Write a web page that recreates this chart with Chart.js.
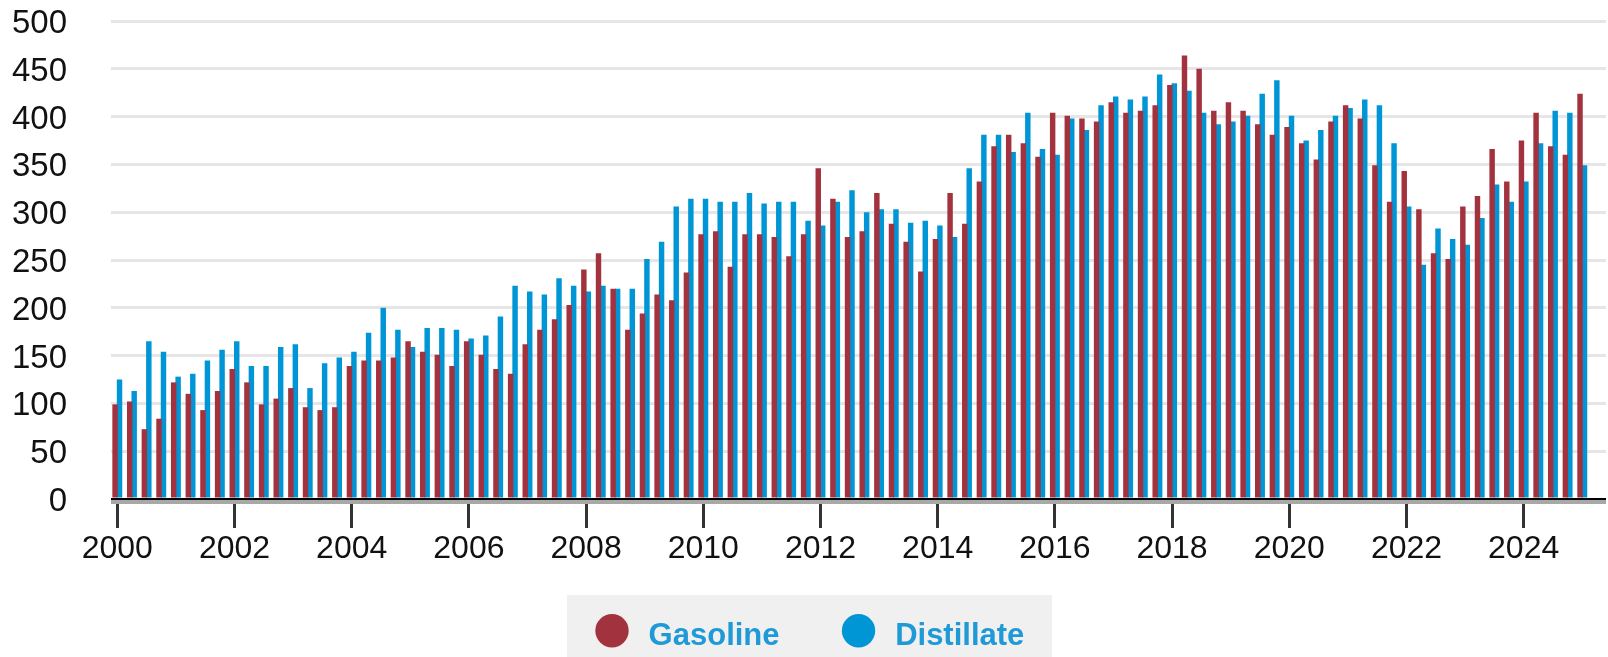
<!DOCTYPE html>
<html>
<head>
<meta charset="utf-8">
<script src="https://cdn.jsdelivr.net/npm/chart.js@4"></script>
<style>
html,body{margin:0;padding:0;background:#fff;}
#wrap{width:1608px;height:657px;position:relative;}
</style>
</head>
<body>
<div id="wrap"><canvas id="c"></canvas></div>
<script>
const quarters = [
  '2000 Q1','2000 Q2','2000 Q3','2000 Q4',
  '2001 Q1','2001 Q2','2001 Q3','2001 Q4',
  '2002 Q1','2002 Q2','2002 Q3','2002 Q4',
  '2003 Q1','2003 Q2','2003 Q3','2003 Q4',
  '2004 Q1','2004 Q2','2004 Q3','2004 Q4',
  '2005 Q1','2005 Q2','2005 Q3','2005 Q4',
  '2006 Q1','2006 Q2','2006 Q3','2006 Q4',
  '2007 Q1','2007 Q2','2007 Q3','2007 Q4',
  '2008 Q1','2008 Q2','2008 Q3','2008 Q4',
  '2009 Q1','2009 Q2','2009 Q3','2009 Q4',
  '2010 Q1','2010 Q2','2010 Q3','2010 Q4',
  '2011 Q1','2011 Q2','2011 Q3','2011 Q4',
  '2012 Q1','2012 Q2','2012 Q3','2012 Q4',
  '2013 Q1','2013 Q2','2013 Q3','2013 Q4',
  '2014 Q1','2014 Q2','2014 Q3','2014 Q4',
  '2015 Q1','2015 Q2','2015 Q3','2015 Q4',
  '2016 Q1','2016 Q2','2016 Q3','2016 Q4',
  '2017 Q1','2017 Q2','2017 Q3','2017 Q4',
  '2018 Q1','2018 Q2','2018 Q3','2018 Q4',
  '2019 Q1','2019 Q2','2019 Q3','2019 Q4',
  '2020 Q1','2020 Q2','2020 Q3','2020 Q4',
  '2021 Q1','2021 Q2','2021 Q3','2021 Q4',
  '2022 Q1','2022 Q2','2022 Q3','2022 Q4',
  '2023 Q1','2023 Q2','2023 Q3','2023 Q4',
  '2024 Q1','2024 Q2','2024 Q3','2024 Q4',
  '2025 Q1'
];

const gasoline = [
  99,102,73,84, 122,110,93,113, 136,122,99,105, 116,96,93,96,
  139,145,145,148, 165,154,151,139, 165,151,136,131, 162,177,188,203,
  240,257,220,177, 194,214,208,237, 277,280,243,277, 277,274,254,277,
  346,314,274,280, 320,288,269,238, 272,320,288,332, 369,381,372,358,
  404,401,398,395, 415,404,406,412, 433,464,450,406, 415,406,392,381,
  389,372,355,395, 412,398,349,311, 343,303,257,251, 306,317,366,332,
  375,404,369,360, 424
];

const distillate = [
  125,113,165,154, 128,131,145,156, 165,139,139,159, 162,116,142,148,
  154,174,200,177, 159,179,179,177, 168,171,191,223, 217,214,231,223,
  217,223,220,220, 251,269,306,314, 314,311,311,320, 309,311,311,291,
  286,311,323,300, 303,303,289,291, 286,274,346,381, 381,363,404,366,
  360,398,386,412, 421,418,421,444, 435,427,404,392, 395,401,424,438,
  401,375,386,401, 409,418,412,372, 306,245,283,272, 266,294,329,311,
  332,372,406,404, 349
];

const tickYears = [2000,2002,2004,2006,2008,2010,2012,2014,2016,2018,2020,2022,2024];
const yTicks = [0,50,100,150,200,250,300,350,400,450,500];
const seriesNames = ['Gasoline','Distillate'];
const seriesColors = ['#a3323f','#0096d6'];

const FONT = "'Liberation Sans', Arial, Helvetica, sans-serif";

function quarterToYear(label){
  const parts = label.split(' Q');
  return Number(parts[0]) + (Number(parts[1]) - 1) / 4;
}
function toPoints(values){
  return values.map((v, i) => ({ x: quarterToYear(quarters[i]), y: v }));
}

const baselinePlugin = {
  id: 'baseline',
  afterDatasetsDraw(chart){
    const { ctx, chartArea, scales } = chart;
    const y0 = Math.round(scales.y.getPixelForValue(0));
    ctx.save();
    ctx.fillStyle = '#a8a8a8';
    ctx.fillRect(chartArea.left, y0 + 1, chartArea.right - chartArea.left, 4);
    ctx.fillStyle = '#000000';
    ctx.fillRect(chartArea.left, y0 - 1, chartArea.right - chartArea.left, 2);
    ctx.restore();
  }
};

const legendPlugin = {
  id: 'boxLegend',
  afterDraw(chart){
    const ctx = chart.ctx;
    const boxLeft = 567, boxTop = 595, boxW = 485, boxH = 62;
    ctx.save();
    ctx.fillStyle = '#f0f0f0';
    ctx.fillRect(boxLeft, boxTop, boxW, boxH);
    ctx.font = "bold 31px " + FONT;
    ctx.textBaseline = 'alphabetic';
    ctx.textAlign = 'left';
    let x = boxLeft + 45;
    const cy = boxTop + 35.7;
    chart.data.datasets.forEach(ds => {
      ctx.fillStyle = ds.backgroundColor;
      ctx.beginPath();
      ctx.arc(x, cy, 16.7, 0, Math.PI * 2);
      ctx.fill();
      const tx = x + 36.6;
      ctx.fillStyle = '#1f9ad7';
      ctx.fillText(ds.label, tx, boxTop + 50);
      x = tx + ctx.measureText(ds.label).width + 79;
    });
    ctx.restore();
  }
};

new Chart(document.getElementById('c'), {
  type: 'bar',
  data: {
    datasets: [
      { label: seriesNames[0], data: toPoints(gasoline), backgroundColor: seriesColors[0], borderWidth: 0 },
      { label: seriesNames[1], data: toPoints(distillate), backgroundColor: seriesColors[1], borderWidth: 0 }
    ]
  },
  options: {
    responsive: true,
    maintainAspectRatio: false,
    animation: false,
    devicePixelRatio: 1,
    categoryPercentage: 0.61,
    barPercentage: 1.22,
    layout: { padding: { top: 21, right: 2, bottom: 88, left: 0 } },
    plugins: { legend: { display: false }, tooltip: { enabled: false } },
    scales: {
      x: {
        type: 'linear',
        offset: false,
        min: 1999.8925,
        max: 2025.405,
        afterBuildTicks: scale => { scale.ticks = tickYears.map(v => ({ value: v })); },
        afterFit: scale => { scale.height = 70; },
        grid: {
          display: true,
          offset: false,
          drawOnChartArea: false,
          drawTicks: true,
          tickLength: 29,
          tickColor: '#333333',
          tickWidth: 3
        },
        border: { display: false },
        ticks: {
          autoSkip: false,
          maxRotation: 0,
          padding: 1.5,
          color: '#111111',
          font: { family: FONT, size: 32 },
          callback: v => String(v)
        }
      },
      y: {
        min: 0,
        max: 500,
        afterBuildTicks: scale => { scale.ticks = yTicks.map(v => ({ value: v })); },
        afterFit: scale => { scale.width = 111; },
        grid: {
          drawTicks: true,
          tickLength: 44,
          tickColor: 'rgba(0,0,0,0)',
          lineWidth: 3,
          color: c => (c.tick && c.tick.value === 0) ? 'rgba(0,0,0,0)' : '#e6e6e6'
        },
        border: { display: false },
        ticks: {
          padding: 0,
          labelOffset: 3,
          color: '#111111',
          font: { family: FONT, size: 33 },
          callback: v => String(v)
        }
      }
    }
  },
  plugins: [baselinePlugin, legendPlugin]
});
</script>
</body>
</html>
